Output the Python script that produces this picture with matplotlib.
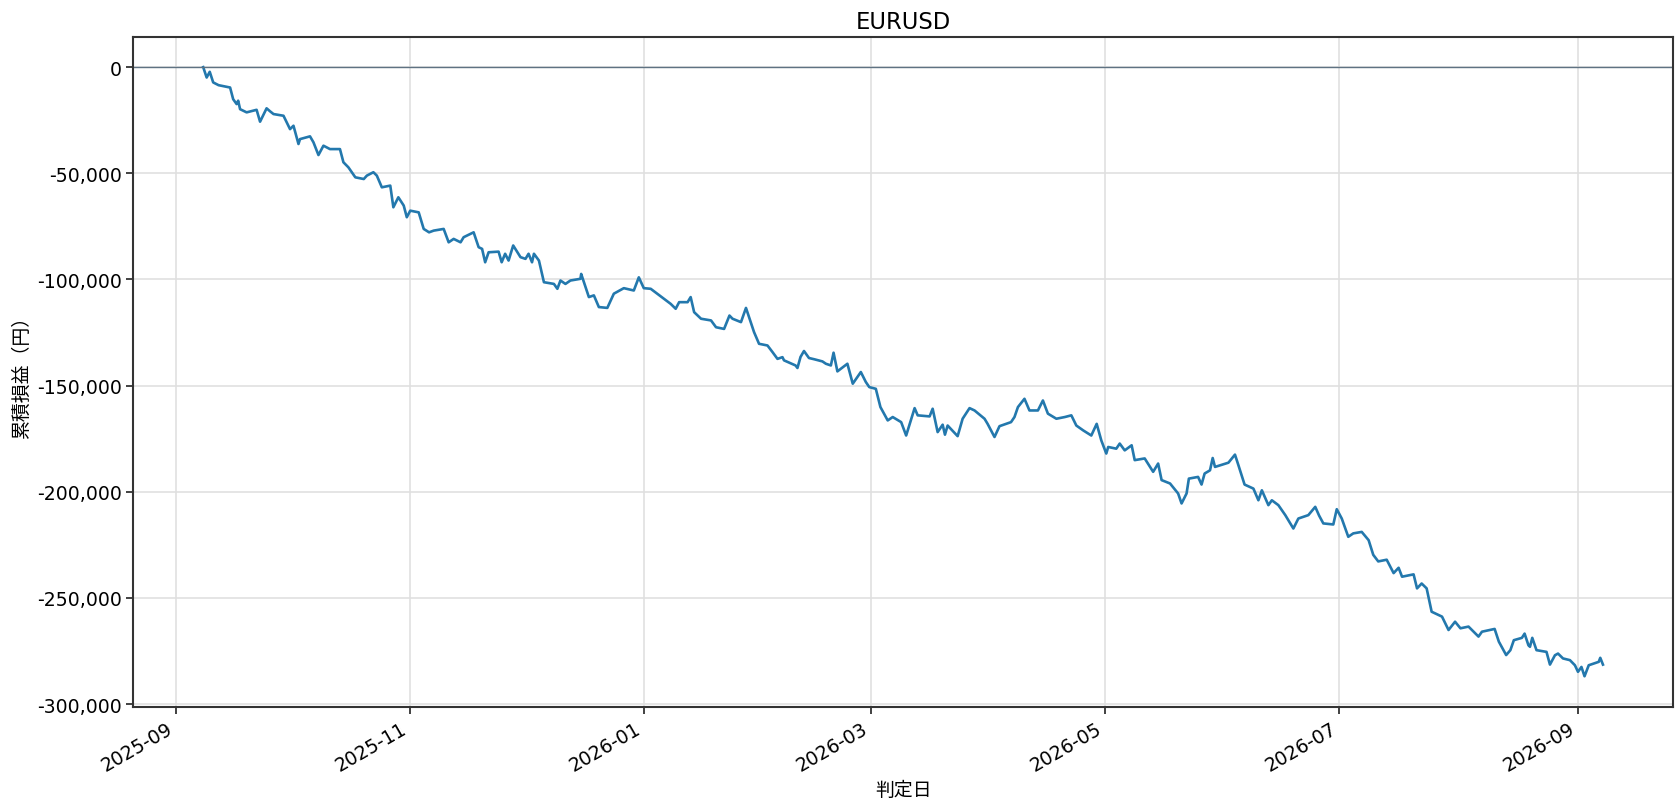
import numpy as np
import pandas as pd
import matplotlib
matplotlib.use("Agg")
import matplotlib.pyplot as plt
import matplotlib.dates as mdates
from matplotlib.ticker import FuncFormatter

plt.rcParams['font.family'] = ['DejaVu Sans', 'Noto Sans CJK JP']
plt.rcParams['font.size'] = 13.6

# days since 2025-09-01 and cumulative P&L (thousand yen)
days = [
    7.2, 8.1, 8.9, 9.8, 11.2, 14.2, 15.0, 15.9, 16.3, 16.8, 18.5, 21.1, 22.0, 23.7,
    24.6, 25.5, 28.1, 29.8, 30.7, 32.0, 32.4, 35.0, 35.9, 37.2, 38.5, 40.2, 42.8,
    43.7, 45.0, 46.8, 49.0, 49.8, 51.5, 52.4, 53.7, 55.9, 56.7, 58.0, 59.4, 60.2,
    61.1, 63.3, 64.6, 66.0, 67.2, 69.8, 71.1, 72.4, 74.2, 75.0, 77.6, 78.9, 79.8,
    80.6, 81.5, 84.1, 84.9, 85.8, 86.7, 87.9, 89.8, 91.1, 91.9, 92.8, 93.3, 94.6,
    95.9, 98.5, 99.4, 100.2, 101.5, 102.8, 105.4, 105.6, 107.6, 108.9, 110.2, 112.4,
    114.1, 116.7, 119.3, 120.6, 121.9, 123.7, 125.4, 127.2, 128.9, 130.2, 131.1,
    133.3, 134.1, 135.0, 136.8, 139.4, 140.7, 142.8, 144.2, 145.0, 147.2, 148.5,
    150.6, 151.9, 154.1, 155.4, 156.7, 158.0, 158.4, 161.4, 161.9, 162.7, 163.6,
    164.9, 166.3, 168.4, 169.3, 170.6, 171.3, 172.3, 174.9, 176.3, 178.4, 179.7,
    180.6, 182.3, 183.5, 185.4, 186.7, 188.9, 190.2, 192.4, 193.2, 196.3, 197.1,
    198.4, 199.7, 200.3, 201.0, 203.6, 204.9, 206.7, 208.0, 210.6, 211.4, 213.2,
    214.5, 217.5, 218.4, 219.3, 221.0, 222.3, 224.5, 225.8, 227.1, 229.3, 231.5,
    233.2, 234.5, 236.3, 238.4, 239.8, 241.0, 242.3, 242.8, 244.9, 245.8, 247.1,
    248.9, 249.7, 252.3, 254.5, 255.8, 256.7, 258.9, 261.0, 261.9, 263.2, 263.8,
    266.2, 267.1, 267.9, 269.3, 270.0, 270.6, 274.1, 275.8, 276.7, 278.3, 280.6,
    281.9, 282.8, 284.5, 285.4, 287.1, 288.9, 291.0, 292.3, 294.9, 296.7, 297.7,
    298.8, 301.4, 302.3, 303.6, 305.3, 306.6, 308.8, 310.6, 311.8, 313.1, 315.3,
    317.1, 318.4, 319.3, 322.3, 323.2, 324.4, 325.7, 327.0, 329.7, 331.4, 333.1,
    334.5, 336.6, 339.2, 340.1, 343.4, 344.5, 346.4, 347.5, 348.4, 350.5, 351.2,
    352.2, 352.6, 353.2, 354.3, 356.9, 357.8, 359.1, 359.9, 361.2, 363.0, 364.3,
    365.1, 366.0, 366.8, 367.9, 370.5, 370.9, 371.6,
]
pnl_k = [
    0.0, -4.9, -2.2, -7.2, -8.5, -9.6, -15.1, -17.4, -15.8, -19.8, -21.3, -20.1, -25.7, -19.4,
    -20.8, -22.1, -22.9, -29.2, -27.6, -36.2, -33.9, -32.6, -35.4, -41.4, -37.0, -38.6, -38.6,
    -44.8, -47.2, -51.9, -52.7, -51.1, -49.5, -51.1, -56.6, -55.8, -66.0, -61.3, -65.2, -70.7,
    -67.6, -68.4, -76.2, -77.8, -77.0, -76.2, -82.5, -80.9, -82.5, -80.1, -77.8, -84.8, -85.6,
    -91.9, -87.2, -86.9, -91.9, -87.9, -91.1, -84.0, -89.5, -90.3, -87.9, -91.9, -87.9, -91.1,
    -101.3, -102.1, -104.4, -100.5, -102.1, -100.5, -99.7, -97.4, -108.3, -107.5, -113.0, -113.4,
    -106.7, -104.1, -105.2, -99.0, -104.1, -104.4, -106.7, -109.1, -111.5, -113.8, -110.7,
    -110.7, -108.3, -115.4, -118.5, -119.3, -122.5, -123.3, -117.0, -118.5, -120.1, -113.4,
    -124.8, -130.3, -131.1, -134.2, -137.4, -136.6, -138.1, -140.5, -141.7, -136.5, -133.7,
    -137.0, -137.6, -138.6, -139.7, -140.5, -134.5, -143.3, -139.7, -149.1, -143.6, -148.3,
    -150.7, -151.5, -160.1, -166.4, -164.8, -167.2, -173.5, -160.6, -164.0, -164.5, -160.9,
    -171.9, -168.4, -173.1, -168.8, -173.8, -165.6, -160.6, -161.7, -165.6, -168.0, -174.2,
    -169.1, -167.2, -164.8, -160.1, -156.2, -161.7, -161.7, -157.0, -163.2, -165.6, -164.8,
    -164.0, -168.8, -171.1, -173.5, -168.0, -175.8, -182.0, -178.9, -179.7, -177.3, -180.5,
    -178.1, -185.1, -184.3, -190.6, -186.7, -194.5, -196.1, -200.8, -205.5, -200.8, -193.8,
    -193.0, -196.6, -191.4, -189.9, -184.1, -188.3, -186.3, -182.5, -187.5, -196.6, -198.5,
    -204.0, -199.3, -206.3, -204.0, -206.3, -211.0, -217.3, -212.6, -211.0, -207.1, -211.2,
    -214.9, -215.4, -208.2, -212.6, -221.2, -219.6, -218.9, -222.8, -229.7, -232.8, -232.0,
    -238.3, -235.8, -240.0, -238.9, -245.5, -243.2, -245.5, -256.5, -258.8, -265.1, -261.2,
    -264.3, -263.5, -268.2, -265.9, -264.6, -270.6, -276.9, -274.6, -269.9, -268.8, -266.8,
    -272.3, -273.0, -268.8, -274.6, -275.4, -281.4, -277.0, -276.2, -278.5, -279.3, -281.7,
    -284.8, -282.5, -286.9, -281.7, -280.1, -278.2, -281.4,
]

dates = pd.Timestamp("2025-09-01") + pd.to_timedelta(days, unit="D")
pnl = np.array(pnl_k) * 1000

fig = plt.figure(figsize=(16.8, 8.12), dpi=100)
ax = fig.add_axes([0.0793, 0.1284, 0.9165, 0.8252])

ax.plot(dates, pnl, color="#2378ad", linewidth=1.9)
ax.axhline(0, color="#5f7282", linewidth=1.0)

ax.set_title("EURUSD", fontsize="large")
ax.set_xlabel("判定日")
ax.set_ylabel("累積損益（円）")
ax.grid(True, color="#e0e0e0", linewidth=1.2)

ax.yaxis.set_major_formatter(FuncFormatter(lambda v, p: f"{v:,.0f}"))
ax.xaxis.set_major_locator(mdates.MonthLocator(bymonth=[1, 3, 5, 7, 9, 11]))
ax.xaxis.set_major_formatter(mdates.DateFormatter("%Y-%m"))
for lbl in ax.get_xticklabels():
    lbl.set_rotation(30)
    lbl.set_ha("right")

for s in ax.spines.values():
    s.set_color("#333333")
    s.set_linewidth(1.5)
ax.tick_params(color="#333333", width=1.3, length=4.8)

fig.savefig("out.png", dpi=100)
